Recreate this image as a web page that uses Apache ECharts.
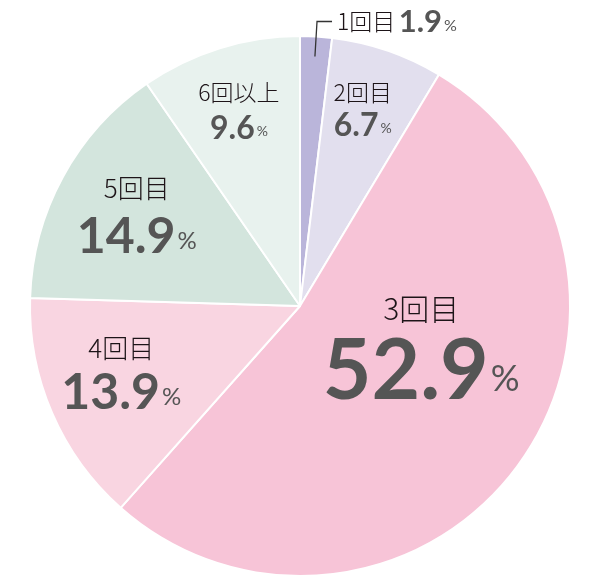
<!DOCTYPE html>
<html>
<head>
<meta charset="utf-8">
<script src="https://cdn.jsdelivr.net/npm/echarts@6/dist/echarts.min.js"></script>
<style>html,body{margin:0;padding:0;background:#fff}#c{width:600px;height:583px}</style>
</head>
<body>
<div id="c"></div>
<script>
const categories = ['1回目', '2回目', '3回目', '4回目', '5回目', '6回以上'];
const values = [1.9, 6.7, 52.9, 13.9, 14.9, 9.6];

// styles (kept separate from data)
const colors = ['#bab5da', '#e2dfee', '#f7c4d7', '#f9d5e1', '#d3e5dd', '#e8f2ee'];
const sizeGroup = ['s', 's', 'l', 'm', 'm', 's'];
const labelAlign = ['left', 'center', 'center', 'center', 'center', 'right'];
const labelOffset = [[0, 0], [18, -63], [10, -36], [-52, 18], [-42, -18], [-20, -60]];
const nameLH = [26, 26, 40, 28, 30, 28];
const valLH = [34, 40, 86, 62, 68, 44];

const NAME_FONT = '"Noto Sans CJK JP", "Noto Sans", sans-serif';
const NUM_FONT = 'Lato, "Noto Sans", sans-serif';
const NAME_COLOR = '#1d1418';
const NUM_COLOR = '#555555';
const sizes = {
  s: { n: 23, v: 32, p: 14 },
  m: { n: 26, v: 50, p: 24 },
  l: { n: 30, v: 84, p: 36 }
};

function richFor(i) {
  const g = sizes[sizeGroup[i]];
  return {
    n: { fontFamily: NAME_FONT, fontSize: g.n, color: NAME_COLOR, lineHeight: nameLH[i], fontWeight: 300 },
    v: { fontFamily: NUM_FONT, fontSize: g.v, color: NUM_COLOR, fontWeight: 700, lineHeight: valLH[i] },
    p: { fontFamily: NUM_FONT, fontSize: g.p, color: NUM_COLOR, fontWeight: 400, lineHeight: valLH[i], padding: [g.v * 0.18, 0, 0, 2] }
  };
}

// main pie: slices + inside labels
const mainData = categories.map((name, i) => {
  const item = { name: name, value: values[i], itemStyle: { color: colors[i] } };
  if (i === 0) {
    item.label = { show: false };
    item.labelLine = { show: false };
  } else {
    item.label = {
      show: true,
      position: 'inside',
      align: labelAlign[i],
      verticalAlign: 'middle',
      offset: labelOffset[i],
      formatter: '{n|' + name + '}\n{v|' + values[i].toFixed(1) + '}{p|%}',
      rich: richFor(i)
    };
    item.labelLine = { show: false };
  }
  return item;
});

// overlay pie (transparent) only to carry the outside label of the first slice,
// so its leader line starts inside the slice
const overlayData = categories.map((name, i) => {
  const item = { name: name, value: values[i], itemStyle: { color: 'rgba(0,0,0,0)' } };
  if (i === 0) {
    item.label = {
      show: true,
      position: 'outside',
      formatter: '{n|' + name + '} {v|' + values[i].toFixed(1) + '}{p|%}',
      rich: {
        n: { fontFamily: NAME_FONT, fontSize: 23, color: NAME_COLOR, fontWeight: 300 },
        v: { fontFamily: NUM_FONT, fontSize: 31, color: NUM_COLOR, fontWeight: 700 },
        p: { fontFamily: NUM_FONT, fontSize: 16, color: NUM_COLOR, padding: [8, 0, 0, 2] }
      }
    };
    item.labelLine = { show: true, showAbove: true, length: 35, length2: 15, lineStyle: { color: '#333', width: 1.3 } };
  } else {
    item.label = { show: false };
    item.labelLine = { show: false };
  }
  return item;
});

const chart = echarts.init(document.getElementById('c'), null, { renderer: 'canvas' });
chart.setOption({
  animation: false,
  series: [{
    type: 'pie',
    z: 2,
    center: [300, 306],
    radius: [0, 270],
    startAngle: 90,
    clockwise: true,
    avoidLabelOverlap: false,
    itemStyle: { borderColor: '#ffffff', borderWidth: 2 },
    emphasis: { disabled: true },
    data: mainData
  }, {
    type: 'pie',
    z: 5,
    center: [300, 306],
    radius: [0, 250],
    startAngle: 90,
    clockwise: true,
    silent: true,
    avoidLabelOverlap: false,
    itemStyle: { borderWidth: 0 },
    emphasis: { disabled: true },
    data: overlayData
  }]
});
</script>
</body>
</html>
